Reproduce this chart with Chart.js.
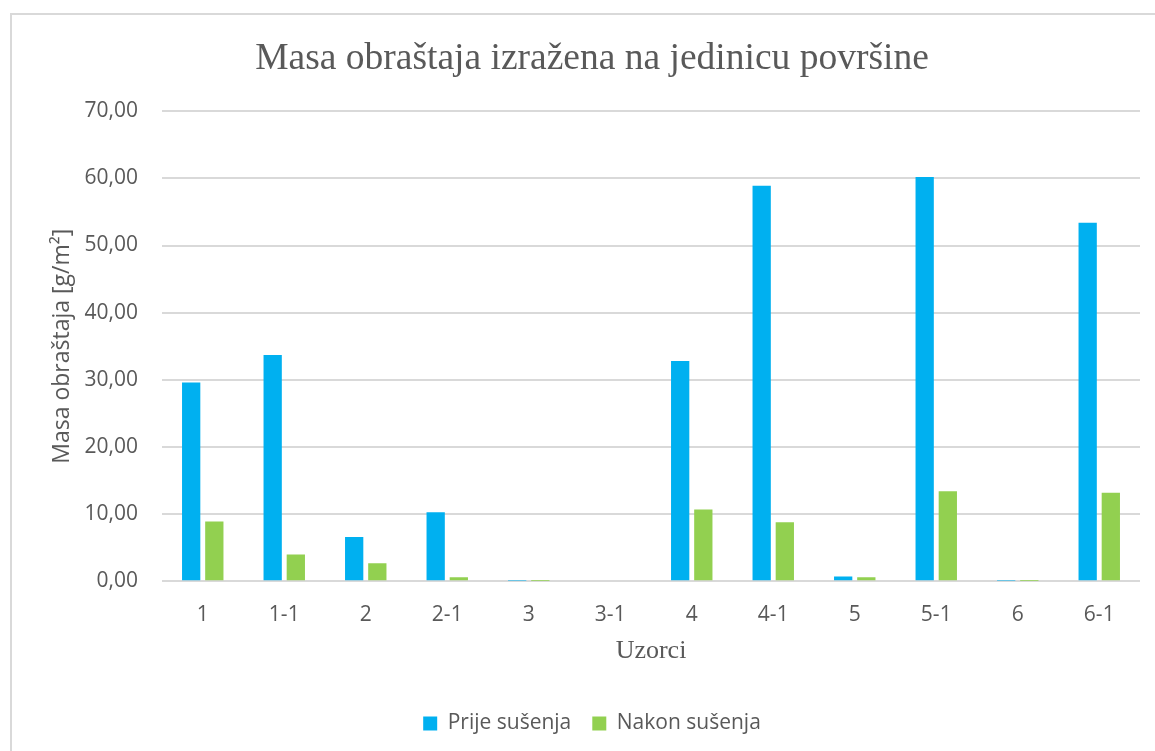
<!DOCTYPE html>
<html>
<head>
<meta charset="utf-8">
<title>Masa obraštaja</title>
<script src="https://cdn.jsdelivr.net/npm/chart.js@4.4.0/dist/chart.umd.min.js"></script>
<style>
html, body { margin: 0; padding: 0; background: #fff; overflow: hidden; }
#frame { position: absolute; left: 10px; top: 13px; width: 1200px; height: 800px;
         border-left: 2px solid #d9d9d9; border-top: 2px solid #d9d9d9; }
#wrap { position: absolute; left: 0; top: 0; width: 1155px; height: 751px; }
</style>
</head>
<body>
<div id="frame"></div>
<div id="wrap"><canvas id="chart"></canvas></div>
<script>
var uzorci = ['1', '1-1', '2', '2-1', '3', '3-1', '4', '4-1', '5', '5-1', '6', '6-1'];
var prijeSusenja = [29.6, 33.7, 6.6, 10.3, 0.1, 0, 32.8, 58.9, 0.7, 60.2, 0.1, 53.4];
var nakonSusenja = [8.9, 4.0, 2.7, 0.6, 0.05, 0, 10.7, 8.8, 0.6, 13.4, 0.05, 13.2];
var yTicks = [0, 10, 20, 30, 40, 50, 60, 70];

var grey = '#595959';
var sans = "'Open Sans', sans-serif";
var serif = "'Liberation Serif', 'Times New Roman', serif";

var ctx = document.getElementById('chart');
var myChart = new Chart(ctx, {
    type: 'bar',
    data: {
        labels: uzorci,
        datasets: [{
            label: 'Prije sušenja',
            data: prijeSusenja,
            backgroundColor: '#00b0f0',
            borderWidth: 0
        }, {
            label: 'Nakon sušenja',
            data: nakonSusenja,
            backgroundColor: '#92d050',
            borderWidth: 0
        }]
    },
    options: {
        responsive: true,
        maintainAspectRatio: false,
        animation: false,
        categoryPercentage: 0.568,
        barPercentage: 0.79,
        layout: {
            padding: { left: 44, right: 15, top: 14, bottom: 7 }
        },
        plugins: {
            title: {
                display: true,
                text: 'Masa obraštaja izražena na jedinicu površine',
                color: grey,
                font: { family: serif, size: 37.5, weight: 'normal' },
                padding: { top: 23, bottom: 29.2 }
            },
            legend: {
                position: 'bottom',
                labels: {
                    color: grey,
                    font: { family: sans, size: 21 },
                    boxWidth: 14,
                    boxHeight: 14,
                    padding: 21
                }
            },
            tooltip: { enabled: false }
        },
        scales: {
            x: {
                grid: { display: false },
                border: { display: false },
                ticks: {
                    color: grey,
                    font: { family: sans, size: 21 },
                    padding: 13.4
                },
                title: {
                    display: true,
                    text: 'Uzorci',
                    color: grey,
                    font: { family: serif, size: 26, weight: 'normal' },
                    padding: { top: -5.4, bottom: 24.9 }
                }
            },
            y: {
                min: 0,
                max: 70,
                afterBuildTicks: function (scale) {
                    scale.ticks = yTicks.map(function (v) { return { value: v }; });
                },
                afterFit: function (scale) {
                    scale.width = 118;
                },
                grid: { color: '#d9d9d9', lineWidth: 2, drawTicks: false },
                border: { display: false },
                ticks: {
                    color: grey,
                    font: { family: sans, size: 21 },
                    padding: 24,
                    callback: function (v) { return v.toFixed(2).replace('.', ','); }
                },
                title: {
                    display: true,
                    text: 'Masa obraštaja [g/m²]',
                    color: grey,
                    font: { family: sans, size: 23 },
                    padding: { top: 5, bottom: 0 }
                }
            }
        }
    }
});
</script>
</body>
</html>
